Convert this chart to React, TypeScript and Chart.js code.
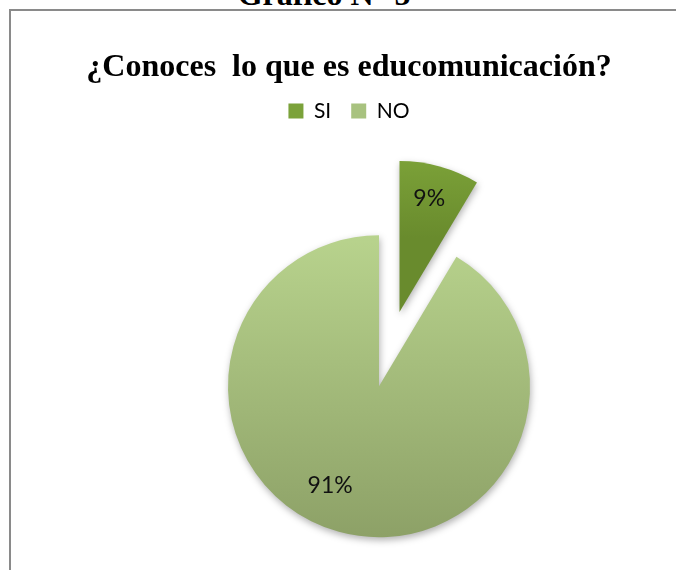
import React, { useEffect, useRef } from 'react';
import { Chart, registerables } from 'chart.js';

Chart.register(...registerables);

// ---- data ----
const CATEGORIES = ['SI', 'NO'];
const VALUES = [3, 32];
const TITLE = '¿Conoces  lo que es educomunicación?';
const CAPTION = 'Gráfico N° 5';

// ---- styles ----
const TOP_COLORS = ['#8cb542', '#b8d38d'];
const BOTTOM_COLORS = ['#698b2d', '#8da167'];
const LEGEND_COLORS = ['#7ba23a', '#a8c27f'];
const RADIUS = 151;
const EXPLODE = [77, 0];
const PIE_SHIFT_X = 30;
const LABEL_POS = [
  { frac: 0.475, r: 0.778 },
  { frac: 0.533, r: 0.731 },
];

const total = () => VALUES.reduce((a, b) => a + b, 0);

function sliceGradient(context: any) {
  const chart = context.chart;
  const area = chart.chartArea;
  const i = context.dataIndex;
  if (!area || i === undefined) return LEGEND_COLORS[i ?? 0];
  const cy = (area.top + area.bottom) / 2;
  const tot = total();
  let cum = 0;
  for (let k = 0; k < i; k++) cum += VALUES[k];
  const a0 = -Math.PI / 2 + (2 * Math.PI * cum) / tot;
  const a1 = a0 + (2 * Math.PI * VALUES[i]) / tot;
  const half = (a0 + a1) / 2;
  const oy = cy + Math.sin(half) * EXPLODE[i];
  let minY = oy;
  let maxY = oy;
  for (let s = 0; s <= 96; s++) {
    const a = a0 + ((a1 - a0) * s) / 96;
    const y = oy + Math.sin(a) * RADIUS;
    minY = Math.min(minY, y);
    maxY = Math.max(maxY, y);
  }
  const g = chart.ctx.createLinearGradient(0, minY, 0, maxY);
  g.addColorStop(0, TOP_COLORS[i]);
  g.addColorStop(1, BOTTOM_COLORS[i]);
  return g;
}

const piePlugin = {
  id: 'piePlugin',
  beforeDatasetDraw(chart: any, args: any) {
    const ctx = chart.ctx;
    const meta = args.meta;
    ctx.save();
    ctx.translate(PIE_SHIFT_X, 0);
    ctx.shadowColor = 'rgba(0,0,0,0.30)';
    ctx.shadowBlur = 7;
    ctx.shadowOffsetX = 1;
    ctx.shadowOffsetY = 3;
    meta.data.forEach((el: any, i: number) => {
      const half = (el.startAngle + el.endAngle) / 2;
      const e = EXPLODE[i] || 0;
      ctx.save();
      ctx.translate(Math.cos(half) * e, Math.sin(half) * e);
      el.draw(ctx, chart.chartArea);
      ctx.restore();
    });
    ctx.shadowColor = 'rgba(0,0,0,0)';
    ctx.shadowBlur = 0;
    ctx.shadowOffsetX = 0;
    ctx.shadowOffsetY = 0;
    const tot = total();
    ctx.font = '23px Lato';
    ctx.fillStyle = '#111';
    ctx.textAlign = 'center';
    ctx.textBaseline = 'middle';
    meta.data.forEach((el: any, i: number) => {
      const e = EXPLODE[i] || 0;
      const half = (el.startAngle + el.endAngle) / 2;
      const a = el.startAngle + (el.endAngle - el.startAngle) * LABEL_POS[i].frac;
      const x = el.x + Math.cos(half) * e + Math.cos(a) * RADIUS * LABEL_POS[i].r;
      const y = el.y + Math.sin(half) * e + Math.sin(a) * RADIUS * LABEL_POS[i].r;
      const pct = Math.round((VALUES[i] / tot) * 100) + '%';
      ctx.fillText(pct, x, y);
    });
    ctx.restore();
    return false;
  },
};

export default function App() {
  const ref = useRef<HTMLCanvasElement | null>(null);

  useEffect(() => {
    if (!ref.current) return;
    const chart = new Chart(ref.current, {
      type: 'pie',
      data: {
        labels: CATEGORIES,
        datasets: [
          {
            data: VALUES,
            backgroundColor: sliceGradient as any,
            borderWidth: 0,
            radius: RADIUS,
            clip: false as any,
          } as any,
        ],
      },
      options: {
        responsive: false,
        maintainAspectRatio: false,
        animation: false,
        events: [],
        devicePixelRatio: 1,
        layout: { padding: 0 },
        plugins: {
          title: {
            display: true,
            text: TITLE,
            color: '#000',
            font: { family: '"Liberation Serif", "Times New Roman", serif', size: 32, weight: 'bold', lineHeight: 0.8 },
            padding: { top: 44, bottom: 0 },
          },
          legend: {
            display: true,
            position: 'top',
            labels: {
              color: '#000',
              font: { family: 'Lato, "Open Sans", sans-serif', size: 21 },
              boxWidth: 15,
              boxHeight: 15,
              padding: 20,
              generateLabels: (c: any) =>
                c.data.labels.map((l: string, i: number) => ({
                  text: l,
                  fillStyle: LEGEND_COLORS[i],
                  strokeStyle: LEGEND_COLORS[i],
                  lineWidth: 0,
                  hidden: false,
                  index: i,
                  fontColor: '#000',
                })),
            },
          },
          tooltip: { enabled: false },
        },
      } as any,
      plugins: [piePlugin as any],
    });
    return () => chart.destroy();
  }, []);

  return (
    <div
      style={{
        position: 'fixed',
        left: 0,
        top: 0,
        width: 676,
        height: 570,
        overflow: 'hidden',
        background: '#fff',
      }}
    >
      <div
        style={{
          position: 'absolute',
          left: 0,
          top: -22,
          width: 648,
          textAlign: 'center',
          font: 'bold 32px "Liberation Serif", "Times New Roman", serif',
          lineHeight: '32px',
          color: '#000',
          whiteSpace: 'nowrap',
        }}
      >
        {CAPTION}
      </div>
      <div
        style={{
          position: 'absolute',
          left: 9,
          top: 9,
          width: 800,
          height: 800,
          borderLeft: '2px solid #8a8a8a',
          borderTop: '2px solid #8a8a8a',
        }}
      >
        <canvas
          ref={ref}
          width={676}
          height={630}
          style={{ position: 'absolute', left: 0, top: 0, width: 676, height: 630 }}
        />
      </div>
    </div>
  );
}
